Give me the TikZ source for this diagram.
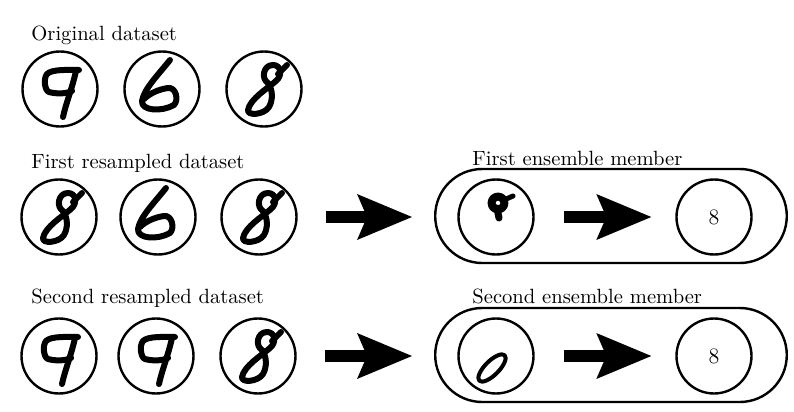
\documentclass[tikz,border=0pt]{standalone}
\usepackage{tikz}
\usetikzlibrary{positioning}
\usetikzlibrary{arrows.meta}

\tikzset{
  sample/.style={circle,draw,line width=1.2pt,minimum size=37.5pt,inner sep=0pt,font=\fontsize{11pt}{13pt}\selectfont},
  member/.style={draw,line width=1.2pt,rounded corners=23.5pt,minimum width=175.8pt,minimum height=47pt},
  stroke/.style={line width=3pt,line cap=round,line join=round},
  bigarrow/.style={line width=6pt,-{Stealth[length=27.5pt,width=23pt,inset=5pt,line width=0pt]}},
  caption/.style={anchor=base west,inner sep=0pt,font=\fontsize{10.3pt}{12pt}\selectfont}
}

% handwritten digits, drawn round the centre of a sample
\newcommand{\digitnine}[1]{%
  \begin{scope}[shift={(#1)}]
    \draw[stroke] (19,-19) .. controls (8,-19) and (-8,-20) .. (-13,-15)
      .. controls (-17,-10) and (-15,2) .. (-11,3)
      .. controls (-4,5) and (6,5) .. (12,2);
    \draw[stroke] (16,-18) .. controls (12,0) and (6,14) .. (3,28);
  \end{scope}}
\newcommand{\digitsix}[1]{%
  \begin{scope}[shift={(#1)}]
    \draw[stroke] (8,-29) .. controls (-4,-14) and (-18,0) .. (-20,12)
      .. controls (-21,22) and (0,23) .. (12,16)
      .. controls (17,11) and (14,-2) .. (6,-1)
      .. controls (-2,0) and (-12,4) .. (-18,10);
  \end{scope}}
\newcommand{\digiteight}[1]{%
  \begin{scope}[shift={(#1)}]
    \draw[stroke] (4,-6) .. controls (-3,-10) and (-1,-24) .. (9,-24)
      .. controls (17,-24) and (19,-14) .. (12,-8)
      .. controls (4,-1) and (-14,10) .. (-16,21)
      .. controls (-17,27) and (0,26) .. (5,18)
      .. controls (9,11) and (9,1) .. (4,-6);
    \draw[stroke] (14,-15) -- (23,-24);
  \end{scope}}

\begin{document}
\begin{tikzpicture}[x=0.5pt,y=-0.5pt]
\useasboundingbox (0,0) rectangle (794,412);

% original dataset
\node[caption] (t1) at (31,40) {Original dataset};
\node[sample] (d11) at (60,89) {};
\node[sample] (d12) at (162,89) {};
\node[sample] (d13) at (264,89) {};
\digitnine{d11}
\digitsix{d12}
\digiteight{d13}

% first resampled dataset
\node[caption] (t2) at (31,168) {First resampled dataset};
\node[sample] (d21) at (59,217) {};
\node[sample] (d22) at (158,217) {};
\node[sample] (d23) at (259,217) {};
\digiteight{d21}
\digitsix{d22}
\digiteight{d23}

% second resampled dataset
\node[caption] (t3) at (31,303) {Second resampled dataset};
\node[sample] (d31) at (59,356) {};
\node[sample] (d32) at (156,356) {};
\node[sample] (d33) at (258,356) {};
\digitnine{d31}
\digitnine{d32}
\digiteight{d33}

% ensemble members
\node[caption] (t4) at (472,165) {First ensemble member};
\node[member] (m1) at (611,216) {};
\node[sample] (e1a) at (496,217) {};
\node[sample] (e1b) at (714,217) {8};
\begin{scope}[shift={(e1a)}]
  \draw[stroke,line width=4pt] (2,-14) circle[radius=3.2pt];
  \draw[stroke,line width=2.5pt] (8,-17) -- (17,-21);
  \draw[stroke,line width=3.5pt] (1,-9) -- (3,1);
\end{scope}

\node[caption] (t5) at (472,303) {Second ensemble member};
\node[member] (m2) at (611,355) {};
\node[sample] (e2a) at (496,356) {};
\node[sample] (e2b) at (714,356) {8};
\draw[stroke,line width=2pt,shift={(e2a)},shift={(-4,12)},rotate=45] (0,0) ellipse[x radius=9pt,y radius=3.5pt];

% arrows
\draw[bigarrow,shorten <=14pt,shorten >=11pt] (d23.east) -- (m1.west |- d23.east);
\draw[bigarrow,shorten <=14pt,shorten >=11pt] (d33.east) -- (m2.west |- d33.east);
\draw[bigarrow,shorten <=14.5pt,shorten >=12pt] (e1a.east) -- (e1b.west);
\draw[bigarrow,shorten <=14.5pt,shorten >=12pt] (e2a.east) -- (e2b.west);
\end{tikzpicture}
\end{document}
